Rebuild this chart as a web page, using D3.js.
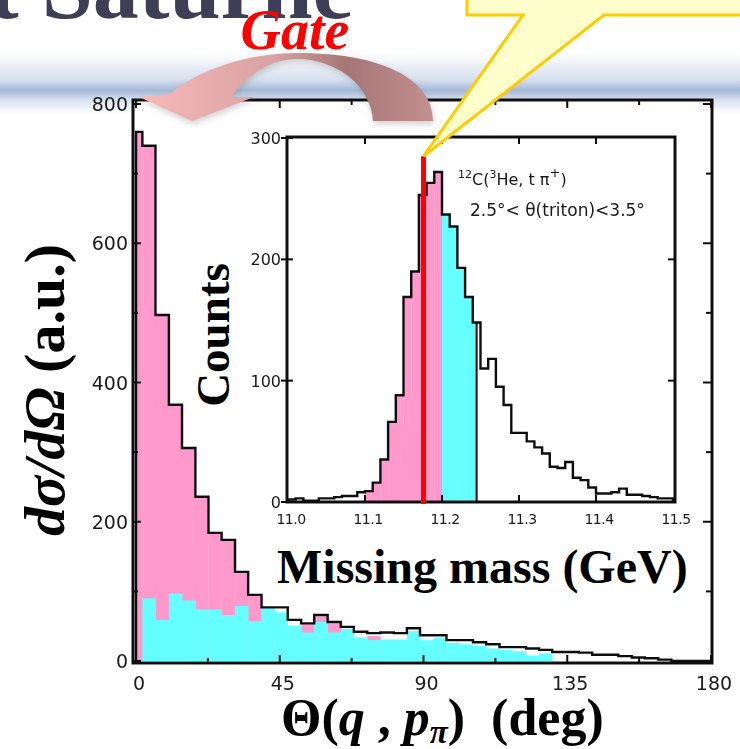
<!DOCTYPE html>
<html lang="en">
<head>
<meta charset="UTF-8">
<title>Gate on missing mass</title>
<script src="https://d3js.org/d3.v7.min.js"></script>
<style>
  body { margin: 0; background: #fff; }
  svg { display: block; }
  .serif { font-family: "Liberation Serif", "Times New Roman", serif; font-weight: bold; white-space: pre; }
  .scan { font-family: "DejaVu Sans", sans-serif; fill: #1a1a1a; }
</style>
</head>
<body>
<svg id="chart" width="740" height="749"></svg>
<script>
// main histogram, dsigma/dOmega against Theta(q, p_pi), lower bin edges in degrees
const thetaLow = [0, 2.0, 6.1, 10.3, 14.4, 18.6, 22.7, 26.8, 31.0, 35.1, 39.3, 43.4, 47.5, 51.7, 55.8,
  60.0, 64.1, 68.2, 72.4, 76.5, 80.7, 84.8, 88.9, 93.1, 97.2, 101.4, 105.5, 109.6, 113.8, 117.9,
  122.1, 126.2, 130.3, 134.5, 138.6, 142.8, 146.9, 151.0, 155.2, 159.3, 163.5, 167.6, 171.7, 175.9];
const thetaEnd = 180;
const totalCounts = [760, 740, 497, 368, 306, 236, 184, 174, 128, 95, 77, 77, 59, 54, 66,
  56, 49, 42, 40, 41, 40, 47, 37, 37, 30, 30, 27, 24, 20, 20,
  18, 16, 13, 13, 12, 9, 9, 7, 5, 4, 2, 0, 0, 0];
const pinkCounts = [760, 740, 497, 368, 306, 236, 184, 174, 128, 95, 0, 0, 0, 54, 64,
  54, 0, 0, 36, 0, 0, 0, 0, 0, 0, 0, 0, 0, 0, 0,
  0, 0, 0, 0, 0, 0, 0, 0, 0, 0, 0, 0, 0, 0];
const cyanCounts = [0, 90, 59, 97, 87, 74, 74, 66, 79, 57, 76, 70, 51, 41, 56,
  41, 46, 34, 30, 31, 31, 43, 30, 33, 26, 24, 22, 18, 16, 14,
  8, 11, 0, 0, 0, 0, 0, 0, 0, 0, 0, 0, 0, 0];
const thetaTicks = [0, 45, 90, 135, 180];
const sigmaTicks = [0, 200, 400, 600, 800];

// inset, missing mass spectrum, lower bin edges in GeV
const massLow = [11.00, 11.01, 11.02, 11.03, 11.04, 11.05, 11.06, 11.07, 11.08, 11.09,
  11.10, 11.11, 11.12, 11.13, 11.14, 11.15, 11.16, 11.17, 11.18, 11.19,
  11.20, 11.21, 11.22, 11.23, 11.24, 11.25, 11.26, 11.27, 11.28, 11.29,
  11.30, 11.31, 11.32, 11.33, 11.34, 11.35, 11.36, 11.37, 11.38, 11.39,
  11.40, 11.41, 11.42, 11.43, 11.44, 11.45, 11.46, 11.47, 11.48, 11.49];
const massEnd = 11.50;
const massCounts = [2, 3, 1, 1, 3, 3, 4, 5, 5, 8,
  9, 16, 35, 66, 88, 169, 190, 253, 263, 272,
  237, 227, 193, 169, 148, 110, 118, 95, 80, 57,
  57, 50, 45, 40, 29, 28, 33, 20, 18, 12,
  7, 7, 8, 11, 6, 6, 5, 4, 3, 3];
const massTicks = [11.0, 11.1, 11.2, 11.3, 11.4, 11.5];
const massTickLabels = ["11.0", "11.1", "11.2", "11.3", "11.4", "11.5"];
const countTicks = [0, 100, 200, 300];
const pinkGate = [11.10, 11.20];
const cyanGate = [11.20, 11.245];
const redCut = 11.176;
const redTop = 285;

const svg = d3.select("#chart");
const defs = svg.append("defs");

// ---- slide decoration behind the chart ----
const band = defs.append("linearGradient").attr("id", "band")
  .attr("x1", 0).attr("y1", 0).attr("x2", 0).attr("y2", 1);
band.append("stop").attr("offset", 0).attr("stop-color", "#ffffff");
band.append("stop").attr("offset", 0.45).attr("stop-color", "#d6e0ee");
band.append("stop").attr("offset", 0.62).attr("stop-color", "#a4b9d7");
band.append("stop").attr("offset", 0.78).attr("stop-color", "#d9e2ef");
band.append("stop").attr("offset", 1).attr("stop-color", "#ffffff");
svg.append("rect").attr("x", 0).attr("y", 52).attr("width", 740).attr("height", 62)
  .attr("fill", "url(#band)");

svg.append("text").attr("class", "serif")
  .attr("x", -12).attr("y", 18)
  .attr("font-size", 92).attr("fill", "#3e3e56")
  .text("t Saturne");

const soft = defs.append("filter").attr("id", "soft");
soft.append("feGaussianBlur").attr("stdDeviation", 0.45);

// ---- main plot ----
const x = d3.scaleLinear().domain([0, 180]).range([136, 711]);
const y = d3.scaleLinear().domain([0, 800]).range([661, 104]);

const main = svg.append("g");
main.append("rect").attr("x", 133).attr("y", 100).attr("width", 579).attr("height", 563)
  .attr("fill", "#fff");

const bins = thetaLow.map((lo, i) => ({
  lo, hi: i < thetaLow.length - 1 ? thetaLow[i + 1] : thetaEnd,
  total: totalCounts[i], pink: pinkCounts[i], cyan: cyanCounts[i]
}));

main.selectAll("rect.pink").data(bins.filter(d => d.pink > 0)).join("rect")
  .attr("class", "pink")
  .attr("x", d => x(d.lo)).attr("width", d => x(d.hi) - x(d.lo) + 0.3)
  .attr("y", d => y(d.pink)).attr("height", d => y(0) - y(d.pink))
  .attr("fill", "#ff99cc");

main.selectAll("rect.cyan").data(bins.filter(d => d.cyan > 0)).join("rect")
  .attr("class", "cyan")
  .attr("x", d => x(d.lo)).attr("width", d => x(d.hi) - x(d.lo) + 0.3)
  .attr("y", d => y(d.cyan)).attr("height", d => y(0) - y(d.cyan))
  .attr("fill", "#66ffff");

const step = d3.line().curve(d3.curveStepAfter);
function stepPoints(data, sx, sy, end) {
  const pts = [[sx(data[0].lo), sy(0)]];
  data.forEach(d => pts.push([sx(d.lo), sy(d.total)]));
  pts.push([sx(end), sy(0)]);
  return pts;
}
const scanned = main.append("g").attr("filter", "url(#soft)");
scanned.append("path")
  .attr("d", step(stepPoints(bins, x, y, thetaEnd)))
  .attr("fill", "none").attr("stroke", "#111").attr("stroke-width", 2.4);

// frame and ticks
scanned.append("rect").attr("x", 133).attr("y", 100).attr("width", 579).attr("height", 563)
  .attr("fill", "none").attr("stroke", "#111").attr("stroke-width", 3);
const sigmaMinor = d3.range(0, 801, 100);
scanned.selectAll("line.yl").data(sigmaMinor).join("line")
  .attr("x1", 133).attr("x2", d => d % 200 ? 138 : 141)
  .attr("y1", d => y(d)).attr("y2", d => y(d))
  .attr("stroke", "#111").attr("stroke-width", 2);
scanned.selectAll("line.yr").data(sigmaMinor).join("line")
  .attr("x1", 712).attr("x2", d => d % 200 ? 706 : 703)
  .attr("y1", d => y(d)).attr("y2", d => y(d))
  .attr("stroke", "#111").attr("stroke-width", 2);
const thetaMinor = d3.range(0, 181, 22.5);
["top", "bottom"].forEach(side => {
  const y0 = side === "top" ? 100 : 663, dir = side === "top" ? 1 : -1;
  scanned.selectAll("line.x" + side).data(thetaMinor).join("line")
    .attr("x1", d => x(d)).attr("x2", d => x(d))
    .attr("y1", y0).attr("y2", d => y0 + dir * (d % 45 ? 5 : 8))
    .attr("stroke", "#111").attr("stroke-width", 2);
});

scanned.selectAll("text.ty").data(sigmaTicks).join("text")
  .attr("class", "scan").attr("font-size", 19)
  .attr("x", 128).attr("y", d => y(d) + 7).attr("text-anchor", "end")
  .text(d => d);
scanned.selectAll("text.tx").data(thetaTicks).join("text")
  .attr("class", "scan").attr("font-size", 19)
  .attr("x", d => x(d) + 3).attr("y", 690).attr("text-anchor", "middle")
  .text(d => d);

// axis titles
const xt = svg.append("text").attr("class", "serif").attr("font-size", 52)
  .attr("x", 281).attr("y", 735);
xt.append("tspan").text("Θ(");
xt.append("tspan").attr("font-style", "italic").text("q");
xt.append("tspan").text(" , ");
xt.append("tspan").attr("font-style", "italic").text("p");
xt.append("tspan").attr("font-style", "italic").attr("font-size", 33).attr("dy", 8).text("π");
xt.append("tspan").attr("dy", -8).text(")  (deg)");

const yt = svg.append("text").attr("class", "serif").attr("font-size", 58)
  .attr("transform", "translate(64,390) rotate(-90)").attr("text-anchor", "middle");
yt.append("tspan").attr("font-style", "italic").text("dσ/dΩ");
yt.append("tspan").text(" (a.u.)");

// ---- inset ----
const mx = d3.scaleLinear().domain([11.0, 11.5]).range([288, 673]);
const my = d3.scaleLinear().domain([0, 300]).range([502, 138]);
const inset = svg.append("g");
inset.append("rect").attr("x", 287).attr("y", 137).attr("width", 388).attr("height", 365)
  .attr("fill", "#fff");

const mbins = massLow.map((lo, i) => ({
  lo, hi: i < massLow.length - 1 ? massLow[i + 1] : massEnd, total: massCounts[i]
}));
function gateFill(gate, color) {
  const parts = mbins.map(d => ({ a: Math.max(d.lo, gate[0]), b: Math.min(d.hi, gate[1]), v: d.total }))
    .filter(d => d.b > d.a);
  inset.selectAll(null).data(parts).join("rect")
    .attr("x", d => mx(d.a)).attr("width", d => mx(d.b) - mx(d.a) + 0.3)
    .attr("y", d => my(d.v)).attr("height", d => my(0) - my(d.v))
    .attr("fill", color);
}
gateFill(pinkGate, "#ff99cc");
gateFill(cyanGate, "#66ffff");

const iscan = inset.append("g").attr("filter", "url(#soft)");
iscan.append("path")
  .attr("d", step(stepPoints(mbins, mx, my, massEnd)))
  .attr("fill", "none").attr("stroke", "#111").attr("stroke-width", 2.4);
iscan.append("line").attr("x1", mx(cyanGate[1])).attr("x2", mx(cyanGate[1]))
  .attr("y1", my(0)).attr("y2", my(massCounts[24]))
  .attr("stroke", "#111").attr("stroke-width", 2);
iscan.append("rect").attr("x", 287).attr("y", 137).attr("width", 388).attr("height", 365)
  .attr("fill", "none").attr("stroke", "#111").attr("stroke-width", 3);
["top", "bottom"].forEach(side => {
  const y0 = side === "top" ? 137 : 502, dir = side === "top" ? 1 : -1;
  iscan.selectAll("line.m" + side).data(massTicks.slice(1, -1)).join("line")
    .attr("x1", d => mx(d)).attr("x2", d => mx(d))
    .attr("y1", y0).attr("y2", y0 + dir * 7)
    .attr("stroke", "#111").attr("stroke-width", 2);
});
iscan.selectAll("line.cl").data(countTicks).join("line")
  .attr("x1", 281).attr("x2", 293)
  .attr("y1", d => my(d)).attr("y2", d => my(d))
  .attr("stroke", "#111").attr("stroke-width", 2);
iscan.selectAll("line.cr").data(countTicks.slice(1, -1)).join("line")
  .attr("x1", 675).attr("x2", 668)
  .attr("y1", d => my(d)).attr("y2", d => my(d))
  .attr("stroke", "#111").attr("stroke-width", 2);
iscan.selectAll("text.cy").data(countTicks).join("text")
  .attr("class", "scan").attr("font-size", 16)
  .attr("x", 281).attr("y", d => my(d) + 6).attr("text-anchor", "end")
  .text(d => d);
iscan.selectAll("text.mx").data(massTickLabels).join("text")
  .attr("class", "scan").attr("font-size", 14)
  .attr("x", (d, i) => mx(massTicks[i]) + 3).attr("y", 524).attr("text-anchor", "middle")
  .attr("letter-spacing", -0.5)
  .text(d => d);

const note = iscan.append("text").attr("class", "scan").attr("font-size", 16);
note.append("tspan").attr("x", 458).attr("y", 185).attr("font-size", 11).attr("dy", -7).text("12");
note.append("tspan").attr("dy", 7).text("C(");
note.append("tspan").attr("font-size", 11).attr("dy", -7).text("3");
note.append("tspan").attr("dy", 7).text("He, t π");
note.append("tspan").attr("font-size", 13).attr("dy", -8).text("+");
note.append("tspan").attr("dy", 8).text(")");
iscan.append("text").attr("class", "scan").attr("font-size", 17)
  .attr("x", 470).attr("y", 216).text("2.5°< θ(triton)<3.5°");

inset.append("line")
  .attr("x1", mx(redCut)).attr("x2", mx(redCut))
  .attr("y1", my(0) + 2).attr("y2", my(redTop))
  .attr("stroke", "#ff0000").attr("stroke-width", 5);

svg.append("text").attr("class", "serif").attr("font-size", 47)
  .attr("transform", "translate(229,335) rotate(-90)").attr("text-anchor", "middle")
  .text("Counts");
svg.append("text").attr("class", "serif").attr("font-size", 48)
  .attr("x", 277).attr("y", 583).text("Missing mass (GeV)");

// ---- curved arrow and the gate label ----
const ag = defs.append("linearGradient").attr("id", "arrowFill")
  .attr("gradientUnits", "userSpaceOnUse").attr("x1", 140).attr("y1", 0).attr("x2", 435).attr("y2", 0);
ag.append("stop").attr("offset", 0).attr("stop-color", "#f7b8b8");
ag.append("stop").attr("offset", 0.45).attr("stop-color", "#d9a2a2");
ag.append("stop").attr("offset", 0.7).attr("stop-color", "#a57676");
ag.append("stop").attr("offset", 1).attr("stop-color", "#c49090");
const shadow = defs.append("filter").attr("id", "shadow").attr("x", -0.1).attr("y", -0.2)
  .attr("width", 1.2).attr("height", 1.5);
shadow.append("feDropShadow").attr("dx", 1).attr("dy", 3).attr("stdDeviation", 3)
  .attr("flood-color", "#777").attr("flood-opacity", 0.35);
svg.append("path")
  .attr("d", "M433,121 C433,78 380,53 297,53 C248,53 198,70 170,94 L139,97 L192,121 L254,97 L231,97 " +
    "C246,77 268,59 297,59 C336,59 371,85 373,121 Z")
  .attr("fill", "url(#arrowFill)").attr("filter", "url(#shadow)");

svg.append("text").attr("class", "serif")
  .attr("x", 295).attr("y", 49).attr("text-anchor", "middle")
  .attr("font-size", 56).attr("font-style", "italic").attr("fill", "#ff0000")
  .text("Gate");

// ---- yellow callout pointing at the cut ----
svg.append("path")
  .attr("d", `M467,-6 L746,-6 L746,15 L604,15 L${mx(redCut)},${my(redTop)} L523,15 L467,15 Z`)
  .attr("fill", "#ffffcc").attr("stroke", "#ffcc00").attr("stroke-width", 3)
  .attr("stroke-linejoin", "miter");
</script>
</body>
</html>
